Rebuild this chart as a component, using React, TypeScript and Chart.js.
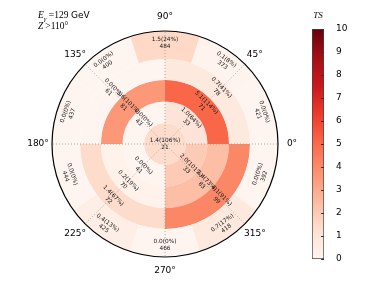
import React, { useEffect, useRef } from 'react';
import { Chart, registerables } from 'chart.js';
Chart.register(...registerables);

// Outer ring: 10 sectors of 36°, clockwise from the top (centres at 90°, 54°, 18°, ...)
const outerSectors = ['90°', '54°', '18°', '342°', '306°', '270°', '234°', '198°', '162°', '126°'];
const outerTS = [1.5, 0.1, 0.0, 0.0, 0.7, 0.0, 0.4, 0.0, 0.0, 0.0];
const outerPct = [24, 8, 0, 0, 17, 0, 13, 0, 0, 0];
const outerN = [484, 373, 421, 392, 418, 466, 425, 444, 437, 400];

// Quadrant rings, clockwise from the top: 45°, 315°, 225°, 135°
const quadrants = ['45°', '315°', '225°', '135°'];
const ring4TS = [0.7, 4.1, 1.4, 0.0];
const ring4Pct = [41, 91, 67, 0];
const ring4N = [78, 99, 72, 61];
const ring3TS = [5.1, 2.4, 0.2, 3.6];
const ring3Pct = [114, 73, 19, 101];
const ring3N = [71, 83, 70, 81];
const ring2TS = [1.0, 2.0, 0.0, 0.0];
const ring2Pct = [64, 101, 0, 0];
const ring2N = [33, 33, 41, 43];
const centerTS = [1.4];
const centerPct = [106];
const centerN = [21];

const angleLabels = ['0°', '45°', '90°', '135°', '180°', '225°', '270°', '315°'];
const tsRange = [0, 10];

const REDS: [number, number, number][] = [
  [255, 245, 240], [254, 224, 210], [252, 187, 161], [252, 146, 114],
  [251, 106, 74], [239, 59, 44], [203, 24, 29], [165, 15, 21], [103, 0, 13],
];
function reds(t: number): string {
  const v = Math.max(0, Math.min(1, t)) * (REDS.length - 1);
  const i = Math.min(Math.floor(v), REDS.length - 2);
  const f = v - i;
  const c = REDS[i].map((a, k) => Math.round(a + (REDS[i + 1][k] - a) * f));
  return `rgb(${c[0]},${c[1]},${c[2]})`;
}
const tsColor = (v: number) => reds((v - tsRange[0]) / (tsRange[1] - tsRange[0]));

const SANS = '"DejaVu Sans", sans-serif';
const SERIF = '"Liberation Serif", "DejaVu Serif", serif';

export default function App() {
  const polarRef = useRef<HTMLCanvasElement>(null);
  const barRef = useRef<HTMLCanvasElement>(null);

  useEffect(() => {
    const rings = [
      { ts: outerTS, pct: outerPct, n: outerN, weight: 28, rotation: -18, labels: outerSectors, kind: 'outer' },
      { ts: ring4TS, pct: ring4Pct, n: ring4N, weight: 21, rotation: 0, labels: quadrants, kind: 'quad' },
      { ts: ring3TS, pct: ring3Pct, n: ring3N, weight: 21.5, rotation: 0, labels: quadrants, kind: 'quad' },
      { ts: ring2TS, pct: ring2Pct, n: ring2N, weight: 21.5, rotation: 0, labels: quadrants, kind: 'quad' },
      { ts: centerTS, pct: centerPct, n: centerN, weight: 21, rotation: 0, labels: ['centre'], kind: 'center' },
    ];

    const polarPlugin = {
      id: 'polarDecor',
      afterDatasetsDraw(chart: any) {
        const ctx = chart.ctx as CanvasRenderingContext2D;
        const outerArc = chart.getDatasetMeta(0).data[0];
        const cx = outerArc.x, cy = outerArc.y, R = outerArc.outerRadius;
        ctx.save();
        // dotted radial grid
        ctx.strokeStyle = '#9a9a9a';
        ctx.lineWidth = 0.8;
        ctx.setLineDash([1, 2]);
        for (let k = 0; k < 8; k++) {
          const a = -k * Math.PI / 4;
          ctx.beginPath();
          ctx.moveTo(cx, cy);
          ctx.lineTo(cx + R * Math.cos(a), cy + R * Math.sin(a));
          ctx.stroke();
        }
        ctx.setLineDash([]);
        // cell labels
        ctx.fillStyle = '#1a1a1a';
        ctx.font = `5.8px ${SANS}`;
        ctx.textAlign = 'center';
        ctx.textBaseline = 'middle';
        rings.forEach((ring, di) => {
          const meta = chart.getDatasetMeta(di);
          meta.data.forEach((arc: any, i: number) => {
            const l1 = `${ring.ts[i].toFixed(1)}(${ring.pct[i]}%)`;
            const l2 = `${ring.n[i]}`;
            let x = arc.x, y = arc.y, rot = 0;
            if (ring.kind !== 'center') {
              const mid = (arc.startAngle + arc.endAngle) / 2;
              const r = (arc.innerRadius + arc.outerRadius) / 2 + 2;
              x = arc.x + r * Math.cos(mid);
              y = arc.y + r * Math.sin(mid);
              if (ring.kind === 'quad') {
                rot = Math.PI / 4;
              } else {
                const phi = -mid * 180 / Math.PI; // math angle
                let t = phi - 90;
                while (t > 90) t -= 180;
                while (t <= -90) t += 180;
                rot = -t * Math.PI / 180;
              }
            }
            ctx.save();
            ctx.translate(x, y);
            ctx.rotate(rot);
            ctx.fillText(l1, 0, -3.4);
            ctx.fillText(l2, 0, 3.4);
            ctx.restore();
          });
        });
        // outer circle
        ctx.strokeStyle = '#000';
        ctx.lineWidth = 1.2;
        ctx.beginPath();
        ctx.arc(cx, cy, R, 0, Math.PI * 2);
        ctx.stroke();
        // angle labels
        ctx.fillStyle = '#000';
        ctx.font = `9px ${SANS}`;
        angleLabels.forEach((lab, k) => {
          const a = -k * Math.PI / 4;
          ctx.fillText(lab, cx + (R + 14) * Math.cos(a), cy + (R + 14) * Math.sin(a));
        });
        // title
        ctx.textAlign = 'left';
        ctx.textBaseline = 'alphabetic';
        let x = 38;
        ctx.font = `italic 9.5px ${SERIF}`;
        ctx.fillText('E', x, 18);
        x += ctx.measureText('E').width;
        ctx.font = `italic 6.5px ${SERIF}`;
        ctx.fillText('γ', x, 20.5);
        x += ctx.measureText('γ').width + 2.5;
        ctx.font = `9.5px ${SERIF}`;
        ctx.fillText('=129', x, 18);
        x += ctx.measureText('=129').width + 2.5;
        ctx.font = `9px ${SANS}`;
        ctx.fillText('GeV', x, 18);
        x = 38;
        ctx.font = `italic 9.5px ${SERIF}`;
        ctx.fillText('Z', x, 28.5);
        x += ctx.measureText('Z').width + 2;
        ctx.font = `9.5px ${SERIF}`;
        ctx.fillText('>110°', x, 28.5);
        ctx.restore();
      },
    };

    const polar = new Chart(polarRef.current!, {
      type: 'doughnut',
      data: {
        labels: outerSectors,
        datasets: rings.map((ring) => ({
          data: ring.ts.map(() => 1),
          backgroundColor: ring.ts.map(tsColor),
          borderWidth: 0,
          hoverOffset: 0,
          offset: 0,
          weight: ring.weight,
          rotation: ring.rotation,
        })) as any,
      },
      options: {
        responsive: false,
        animation: false,
        cutout: 0,
        layout: { padding: { left: 52, top: 31, right: 96, bottom: 31 } },
        plugins: { legend: { display: false }, tooltip: { enabled: false } },
        events: [],
      } as any,
      plugins: [polarPlugin],
    });

    const cbPlugin = {
      id: 'cbDecor',
      afterDraw(chart: any) {
        const ctx = chart.ctx as CanvasRenderingContext2D;
        const area = chart.chartArea;
        const ys = chart.scales.y;
        ctx.save();
        ctx.strokeStyle = '#333';
        ctx.lineWidth = 1;
        ys.ticks.forEach((t: any) => {
          const y = Math.round(ys.getPixelForValue(t.value)) + 0.5;
          ctx.beginPath();
          ctx.moveTo(area.right - 3, y);
          ctx.lineTo(area.right, y);
          ctx.stroke();
        });
        ctx.fillStyle = '#000';
        ctx.font = `italic 9px ${SERIF}`;
        ctx.textAlign = 'center';
        ctx.textBaseline = 'middle';
        ctx.fillText('TS', (area.left + area.right) / 2, 16);
        ctx.restore();
      },
    };

    const cb = new Chart(barRef.current!, {
      type: 'bar',
      data: {
        labels: ['TS'],
        datasets: [{
          data: [[tsRange[0], tsRange[1]]] as any,
          backgroundColor: (c: any) => {
            const area = c.chart.chartArea;
            if (!area) return tsColor(5);
            const g = c.chart.ctx.createLinearGradient(0, area.bottom, 0, area.top);
            for (let k = 0; k <= 20; k++) g.addColorStop(k / 20, reds(k / 20));
            return g;
          },
          borderColor: '#444',
          borderWidth: 1,
          borderSkipped: false,
          barPercentage: 1,
          categoryPercentage: 1,
        }],
      },
      options: {
        responsive: false,
        animation: false,
        layout: { padding: { top: 29, bottom: 29, left: 0, right: 0 } },
        plugins: { legend: { display: false }, tooltip: { enabled: false } },
        events: [],
        scales: {
          x: { display: false },
          y: {
            position: 'right',
            min: tsRange[0],
            max: tsRange[1],
            ticks: { stepSize: 1, padding: 4, color: '#000', font: { family: SANS, size: 9 } },
            grid: { display: false },
            border: { display: false },
            afterFit: (s: any) => { s.width = 29; },
          },
        },
      } as any,
      plugins: [cbPlugin],
    });

    return () => { polar.destroy(); cb.destroy(); };
  }, []);

  return (
    <div style={{ position: 'absolute', left: 0, top: 0, width: 374, height: 288, background: '#fff' }}>
      <canvas ref={polarRef} width={374} height={288} style={{ position: 'absolute', left: 0, top: 0 }} />
      <canvas ref={barRef} width={41} height={288} style={{ position: 'absolute', left: 312, top: 0 }} />
    </div>
  );
}
